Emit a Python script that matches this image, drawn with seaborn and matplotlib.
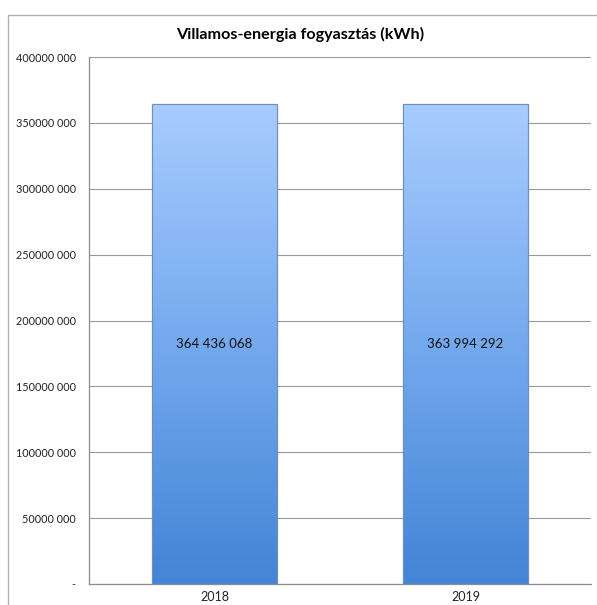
import matplotlib
matplotlib.use("Agg")
import matplotlib.pyplot as plt
import seaborn as sns
import numpy as np
import pandas as pd
from matplotlib.patches import Rectangle
from matplotlib.colors import LinearSegmentedColormap

years = ["2018", "2019"]
values = [364436068, 363994292]
value_labels = ["364 436 068", "363 994 292"]
ytick_values = [0, 50000000, 100000000, 150000000, 200000000, 250000000, 300000000, 350000000, 400000000]
ytick_labels = ["-", "50000 000", "100000 000", "150000 000", "200000 000", "250000 000",
                "300000 000", "350000 000", "400000 000"]
title = "Villamos-energia fogyasztás (kWh)"

sns.set_theme(style="white")
plt.rcParams['font.family'] = ['Lato', 'DejaVu Sans']

W, H = 597, 605
fig = plt.figure(figsize=(W / 100, H / 100), dpi=100)
fig.patch.set_facecolor("white")
ax = fig.add_axes([89 / W, 1 - 584 / H, (591 - 89) / W, (584 - 57) / H])

df = pd.DataFrame({"year": years, "value": values})
sns.barplot(data=df, x="year", y="value", ax=ax, width=0.5, color="#6a9fe6",
            edgecolor="#5a7fb0", linewidth=0.8)

ax.set_ylim(0, 400000000)
ax.set_xlim(-0.5, 1.5)
ax.set_yticks(ytick_values)
ax.set_yticklabels(ytick_labels, fontsize=7.8, color="#222222")
ax.tick_params(axis="y", length=0, pad=9.5)
ax.tick_params(axis="x", length=0, labelsize=9, pad=5, colors="#222222")
ax.set_xlabel("")
ax.set_ylabel("")
ax.yaxis.grid(True, color="#9a9a9a", linewidth=0.8)
ax.set_axisbelow(True)
for s in ["top", "right"]:
    ax.spines[s].set_visible(False)
ax.spines["left"].set_color("#8c8c8c")
ax.spines["bottom"].set_color("#8c8c8c")
ax.spines["left"].set_linewidth(0.9)
ax.spines["bottom"].set_linewidth(0.9)

# gradient fill
cmap = LinearSegmentedColormap.from_list("g", ["#4384d6", "#74a9ee", "#a8ccff"])
grad = np.linspace(0, 1, 256).reshape(-1, 1)
for bar in ax.patches:
    x0, y0 = bar.get_x(), bar.get_y()
    w, h = bar.get_width(), bar.get_height()
    im = ax.imshow(grad, extent=[x0, x0 + w, y0, y0 + h], origin="lower",
                   cmap=cmap, aspect="auto", zorder=bar.get_zorder() + 0.1)
    im.set_clip_path(bar)
    edge = Rectangle((x0, y0), w, h, fill=False, edgecolor="#6f8fb8", linewidth=0.8,
                     zorder=bar.get_zorder() + 0.2)
    ax.add_patch(edge)
ax.set_xlim(-0.5, 1.5)
ax.set_ylim(0, 400000000)

for i, (v, lab) in enumerate(zip(values, value_labels)):
    ax.text(i, v / 2, lab, ha="center", va="center", fontsize=9.5, color="#111111", zorder=10)

fig.text(300 / W, 1 - 34 / H, title, ha="center", va="center", fontsize=11.6,
         fontweight="bold", color="#000000")

# outer chart border
fig.patches.append(Rectangle((8 / W, -0.1), 1.2, 1 - 15 / H + 0.1, transform=fig.transFigure,
                             fill=False, edgecolor="#b0b0b0", linewidth=1.0, zorder=-1))

fig.savefig("out.png", dpi=100)
